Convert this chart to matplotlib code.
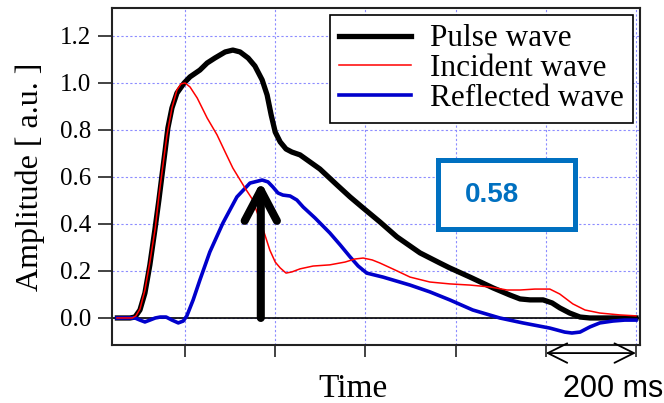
import matplotlib.pyplot as plt
from matplotlib.patches import Rectangle, FancyArrowPatch

# 시간 (ms) 과 진폭 데이터
pulse_t = [50, 78, 89, 100, 111, 122, 133, 142, 149, 156, 162, 171, 182, 198, 211, 233, 249, 266, 289, 306,
           322, 340, 355, 371, 382, 391, 400, 411, 424, 437, 455, 477, 499, 537, 566, 595, 632, 670, 721, 765,
           787, 832, 883, 920, 943, 965, 994, 1014, 1031, 1053, 1076, 1098, 1200]
pulse_amp = [0, 0, 0.004, 0.034, 0.106, 0.226, 0.374, 0.502, 0.609, 0.715, 0.809, 0.894, 0.957, 1.0, 1.026,
             1.055, 1.085, 1.106, 1.132, 1.140, 1.132, 1.106, 1.072, 1.013, 0.949, 0.864, 0.791, 0.749, 0.719,
             0.706, 0.694, 0.664, 0.634, 0.566, 0.515, 0.468, 0.409, 0.345, 0.277, 0.234, 0.213, 0.174, 0.128,
             0.098, 0.081, 0.077, 0.077, 0.064, 0.043, 0.021, 0.004, 0, 0]

incident_t = [49, 83, 91, 100, 111, 122, 134, 142, 151, 160, 171, 182, 191, 200, 211, 227, 249, 271, 289, 306,
              333, 349, 362, 375, 388, 400, 411, 424, 437, 455, 484, 521, 555, 577, 595, 615, 632, 666, 699, 743,
              787, 832, 876, 914, 943, 976, 1009, 1031, 1060, 1087, 1120, 1164, 1200]
incident_amp = [0, 0, 0.009, 0.038, 0.119, 0.238, 0.383, 0.519, 0.651, 0.779, 0.894, 0.970, 0.996, 1.0, 0.983,
                0.936, 0.851, 0.779, 0.706, 0.638, 0.553, 0.506, 0.438, 0.366, 0.289, 0.238, 0.213, 0.191, 0.196,
                0.209, 0.221, 0.226, 0.238, 0.251, 0.255, 0.247, 0.234, 0.204, 0.174, 0.153, 0.145, 0.140, 0.132,
                0.119, 0.119, 0.123, 0.123, 0.102, 0.060, 0.034, 0.021, 0.013, 0.009]

reflected_t = [49, 89, 100, 111, 122, 134, 145, 158, 171, 185, 196, 204, 218, 233, 255, 284, 315, 344, 371, 384,
               395, 406, 417, 433, 448, 462, 488, 521, 544, 566, 584, 603, 639, 699, 743, 787, 838, 898, 949, 1009,
               1042, 1058, 1076, 1098, 1120, 1149, 1175, 1200]
reflected_amp = [0, 0, -0.009, -0.017, -0.009, 0, 0.004, 0.004, -0.009, -0.021, -0.013, 0.009, 0.077, 0.162,
                 0.281, 0.404, 0.515, 0.574, 0.587, 0.579, 0.557, 0.532, 0.523, 0.519, 0.502, 0.472, 0.426, 0.362,
                 0.311, 0.260, 0.221, 0.191, 0.174, 0.140, 0.111, 0.077, 0.034, 0, -0.021, -0.043, -0.060, -0.064,
                 -0.060, -0.038, -0.021, -0.013, -0.009, -0.009]

labels = ['Pulse wave', 'Incident wave', 'Reflected wave']
peak_t = 368
peak_value = 0.58
x_grid = [200, 400, 600, 800, 1000, 1200]
y_ticks = [0.0, 0.2, 0.4, 0.6, 0.8, 1.0, 1.2]
scale_start, scale_end = 1000, 1200

serif = 'Liberation Serif'
sans = 'Liberation Sans'
box_blue = '#0070c0'

fig = plt.figure(figsize=(6.64, 4.03), dpi=100)
ax = fig.add_axes([112 / 664, 58 / 403, 528 / 664, 337 / 403])

# 그래프
ax.plot(pulse_t, pulse_amp, color='black', lw=3.8, label=labels[0], solid_joinstyle='round', zorder=3)
ax.plot(reflected_t, reflected_amp, color='#0000cc', lw=2.6, label=labels[2], solid_joinstyle='round', zorder=4)
ax.plot(incident_t, incident_amp, color='#ff0000', lw=1.1, label=labels[1], zorder=5)
ax.axhline(0, color='black', lw=1.2, zorder=2)

ax.set_xlim(38, 1209)
ax.set_ylim(-0.115, 1.319)
ax.set_xticks(x_grid)
ax.set_xticklabels([])
ax.set_yticks(y_ticks)
ax.set_yticklabels(['%.1f' % v for v in y_ticks], family=serif, fontsize=18)
ax.tick_params(axis='x', direction='out', length=8.5, width=1.2, color='#222222')
ax.tick_params(axis='y', direction='out', length=10, width=1.2, color='#222222', pad=5)
ax.grid(True, color='#8c8cff', ls=(0, (2, 2)), lw=0.8)
for s in ax.spines.values():
    s.set_linewidth(1.5)
    s.set_color('#222222')

# 반사파 최대값 화살표
ax.add_patch(FancyArrowPatch((peak_t, 0), (peak_t, peak_value),
                             arrowstyle='->,head_length=1.1,head_width=0.58', mutation_scale=20,
                             lw=5.8, color='black', capstyle='round', joinstyle='round',
                             shrinkA=0, shrinkB=0, zorder=6))

# 0.58 상자
ax.add_patch(Rectangle((760, 0.379), 304, 0.293, fill=True, facecolor='white',
                       edgecolor=box_blue, lw=3.6, zorder=6))
ax.text(880, 0.522, '%.2f' % peak_value, color=box_blue, fontsize=20, fontweight='bold',
        family=sans, ha='center', va='center', zorder=7)

# 200 ms 스케일
ax.annotate('', xy=(scale_end, -0.024), xytext=(scale_start, -0.024),
            xycoords=ax.get_xaxis_transform(), textcoords=ax.get_xaxis_transform(),
            arrowprops=dict(arrowstyle='<->,head_length=1.4,head_width=0.7', mutation_scale=10,
                            lw=1.3, color='black', shrinkA=0, shrinkB=0),
            annotation_clip=False)
fig.text(563 / 664, 6 / 403, '200 ms', family=sans, fontsize=22, ha='left', va='baseline')

fig.text(30 / 664, 226 / 403, 'Amplitude [ a.u. ]', family=serif, fontsize=23,
         rotation=90, ha='center', va='center')
fig.text(353 / 664, 6 / 403, 'Time', family=serif, fontsize=24, ha='center', va='baseline')

# 범례 (Pulse, Incident, Reflected 순서)
h, l = ax.get_legend_handles_labels()
h = [h[0], h[2], h[1]]
l = [l[0], l[2], l[1]]
leg = ax.legend(h, l, loc='upper right', bbox_to_anchor=(0.9867, 0.979), bbox_transform=ax.transAxes,
                prop={'family': serif, 'size': 22.5}, handlelength=2.3, handletextpad=0.6,
                borderpad=0.3, labelspacing=0.03, borderaxespad=0, fancybox=False,
                edgecolor='black', framealpha=1)
leg.get_frame().set_linewidth(1.2)
leg.set_zorder(8)

plt.savefig('out.png', dpi=100)
